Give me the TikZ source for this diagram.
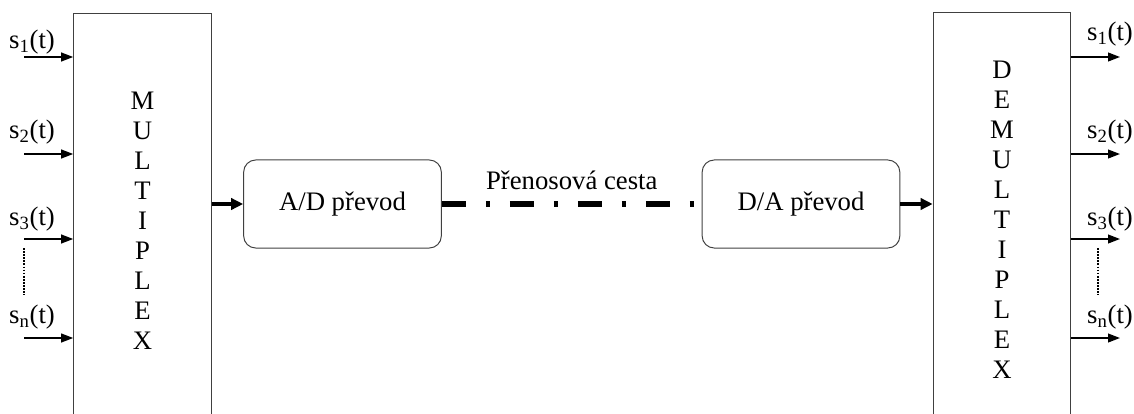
\documentclass[tikz,border=0pt]{standalone}
\usepackage{fontspec}
\setmainfont{Liberation Serif}
\usetikzlibrary{arrows.meta}
\usetikzlibrary{positioning}

\begin{document}
\begin{tikzpicture}[x=0.025cm, y=-0.025cm,
    font=\fontsize{19}{21.3}\selectfont,
    bigbox/.style = {draw=black!75, line width=0.7pt, minimum width=3.44cm,
        minimum height=10.35cm, align=center, inner sep=0pt},
    convbox/.style = {draw=black!75, line width=0.7pt, rounded corners=0.3cm,
        minimum width=4.94cm, minimum height=2.2cm},
    sig/.style = {line width=1.1pt, -{Triangle[length=0.3cm, width=0.22cm]}},
    link/.style = {line width=2.2pt, -{Triangle[length=0.3cm, width=0.28cm]}},
    channel/.style = {line width=3.6pt, dash pattern=on 0.6cm off 0.5cm on 0.1cm off 0.5cm},
    dots/.style = {line width=1.3pt, dash pattern=on 1.2pt off 1pt}]
    \useasboundingbox (0,0) rectangle (1134,414);
    \node [bigbox] (mux) at (142.5,221) {M\\U\\L\\T\\I\\P\\L\\E\\X};
    \node [bigbox] (demux) at (1002,220) {D\\E\\M\\U\\L\\T\\I\\P\\L\\E\\X};
    \node [convbox] (ad) at (342.5,204) {A/D převod};
    \node [convbox] (da) at (801,204) {D/A převod};

    \coordinate (in1) at (24,57);
    \coordinate (in2) at (24,154);
    \coordinate (in3) at (24,239);
    \coordinate (in4) at (24,338);
    \coordinate (out1) at (1120,57);
    \coordinate (out2) at (1120,154);
    \coordinate (out3) at (1120,239);
    \coordinate (out4) at (1120,338);

    \node (lin1) at (32,42) {s\textsubscript{1}(t)};
    \node (lin2) at (32,132) {s\textsubscript{2}(t)};
    \node (lin3) at (32,219) {s\textsubscript{3}(t)};
    \node (lin4) at (32,317) {s\textsubscript{n}(t)};
    \node (lout1) at (1110,34) {s\textsubscript{1}(t)};
    \node (lout2) at (1110,132) {s\textsubscript{2}(t)};
    \node (lout3) at (1110,219) {s\textsubscript{3}(t)};
    \node (lout4) at (1110,317) {s\textsubscript{n}(t)};

    \draw [sig] (in1) -- (in1 -| mux.west);
    \draw [sig] (in2) -- (in2 -| mux.west);
    \draw [sig] (in3) -- (in3 -| mux.west);
    \draw [sig] (in4) -- (in4 -| mux.west);
    \draw [sig] (out1 -| demux.east) -- (out1);
    \draw [sig] (out2 -| demux.east) -- (out2);
    \draw [sig] (out3 -| demux.east) -- (out3);
    \draw [sig] (out4 -| demux.east) -- (out4);

    \coordinate (dl1) at (24,248);
    \coordinate (dl2) at (24,295);
    \coordinate (dr1) at (1098,248);
    \coordinate (dr2) at (1098,295);
    \draw [dots] (dl1) -- (dl2);
    \draw [dots] (dr1) -- (dr2);

    \draw [link] (ad.west -| mux.east) -- (ad.west);
    \draw [channel] (ad.east) -- node [above=0.3cm, inner sep=0pt] {Přenosová cesta} (da.west);
    \draw [link] (da.east) -- (da.east -| demux.west);
\end{tikzpicture}
\end{document}
